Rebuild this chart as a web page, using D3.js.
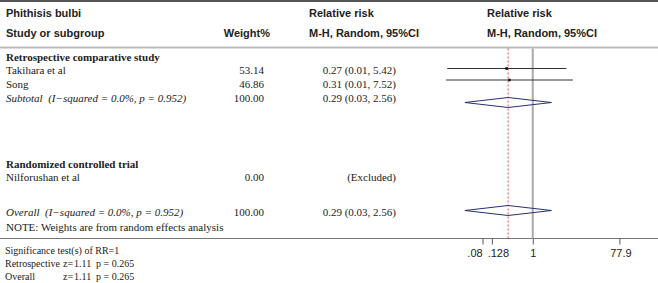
<!DOCTYPE html>
<html>
<head>
<meta charset="utf-8">
<script src="https://cdn.jsdelivr.net/npm/d3@7"></script>
<style>
  body { margin: 0; background: #fff; }
  svg text { fill: #222; }
  .hd { font-family: "Liberation Sans", Arial, sans-serif; font-weight: bold; font-size: 11px; }
  .tx { font-family: "Liberation Serif", "Times New Roman", serif; font-size: 11px; white-space: pre; }
  .sm { font-size: 10px; }
  .tick text { font-family: "Liberation Sans", Arial, sans-serif; font-size: 11px; }
</style>
</head>
<body>
<div id="chart"></div>
<script>
// data
const title = "Phithisis bulbi";
const groupNames = ["Retrospective comparative study", "Randomized controlled trial"];
const studies = ["Takihara et al", "Song"];
const weights = [53.14, 46.86];
const rr = [0.27, 0.31];
const ciLow = [0.0136, 0.0128];   // plotted ends, text rounds to 0.01
const ciHigh = [5.42, 7.52];
const ciLabels = ["0.27 (0.01, 5.42)", "0.31 (0.01, 7.52)"];
const subtotal = { label: "Subtotal  (I\u2212squared = 0.0%, p = 0.952)", weight: "100.00", rr: 0.29, lo: 0.033, hi: 2.56, text: "0.29 (0.03, 2.56)" };
const excluded = { label: "Nilforushan et al", weight: "0.00", text: "(Excluded)" };
const overall = { label: "Overall  (I\u2212squared = 0.0%, p = 0.952)", weight: "100.00", rr: 0.29, lo: 0.033, hi: 2.56, text: "0.29 (0.03, 2.56)" };
const note = "NOTE: Weights are from random effects analysis";
const sigLabels = ["Significance test(s) of RR=1", "Retrospective", "Overall"];
const sigZ = [null, "1.11", "1.11"];
const sigP = [null, "p = 0.265", "p = 0.265"];
const tickValues = [0.08, 0.128, 1, 77.9];
const tickLabels = [".08", ".128", "1", "77.9"];

const W = 658, H = 283;
const svg = d3.select("#chart").append("svg")
    .attr("width", W).attr("height", H);

// log scale for relative risk
const x = d3.scaleLog().domain([0.08, 77.9]).range([482.5, 619.4]);
const size = d3.scaleSqrt().domain([0, 100]).range([0, 3.6]);

// row baselines
const yB = { h1: 17, h2: 37, g1: 61, s0: 74, s1: 87.5, sub: 102, g2: 168, ex: 181, ov: 215.5, note: 230.5 };
const markY = { s0: 68.5, s1: 80, sub: 102.5, ov: 210.5 };
const colW = 264, colCI = 396, colHead = 309, colPlot = 487;

// frame lines
svg.append("line").attr("x1", 0).attr("x2", W).attr("y1", 1).attr("y2", 1)
    .attr("stroke", "#555").attr("stroke-width", 2);
svg.append("line").attr("x1", 0).attr("x2", W).attr("y1", 47.5).attr("y2", 47.5)
    .attr("stroke", "#bbb").attr("stroke-width", 2);
svg.append("line").attr("x1", 0).attr("x2", W).attr("y1", 238.5).attr("y2", 238.5)
    .attr("stroke", "#777").attr("stroke-width", 1.2);

// headers
const hd = (t, xx, yy, anchor) => svg.append("text").attr("class", "hd")
    .attr("x", xx).attr("y", yy).attr("text-anchor", anchor || "start").text(t);
hd(title, 6, yB.h1);
hd("Study or subgroup", 6, yB.h2);
hd("Weight%", 270, yB.h2, "end");
hd("Relative risk", colHead, yB.h1);
hd("M-H, Random, 95%CI", colHead, yB.h2);
hd("Relative risk", colPlot, yB.h1);
hd("M-H, Random, 95%CI", colPlot, yB.h2);

const tx = (t, xx, yy, anchor, style) => {
    const el = svg.append("text").attr("class", "tx")
        .attr("x", xx).attr("y", yy).attr("text-anchor", anchor || "start").text(t);
    if (style === "b") el.attr("font-weight", "bold");
    if (style === "i") el.attr("font-style", "italic");
    return el;
};

// table text
tx(groupNames[0], 6, yB.g1, "start", "b");
studies.forEach((s, i) => {
    const yy = yB["s" + i];
    tx(s, 6, yy);
    tx(weights[i].toFixed(2), colW, yy, "end");
    tx(ciLabels[i], colCI, yy, "end");
});
tx(subtotal.label, 6, yB.sub, "start", "i");
tx(subtotal.weight, colW, yB.sub, "end");
tx(subtotal.text, colCI, yB.sub, "end");
tx(groupNames[1], 6, yB.g2, "start", "b");
tx(excluded.label, 6, yB.ex);
tx(excluded.weight, colW, yB.ex, "end");
tx(excluded.text, colCI, yB.ex, "end");
tx(overall.label, 6, yB.ov, "start", "i");
tx(overall.weight, colW, yB.ov, "end");
tx(overall.text, colCI, yB.ov, "end");
tx(note, 6, yB.note);

// significance tests
const sigY = [254, 267, 280];
sigLabels.forEach((lab, i) => {
    tx(lab, 5, sigY[i]).classed("sm", true);
    if (sigZ[i]) {
        tx("z=", 63, sigY[i]).classed("sm", true);
        tx(sigZ[i], 74, sigY[i]).classed("sm", true);
        tx(sigP[i], 96, sigY[i]).classed("sm", true);
    }
});

// reference lines
svg.append("line").attr("x1", x(1)).attr("x2", x(1)).attr("y1", 48.5).attr("y2", 238.5)
    .attr("stroke", "#aaa").attr("stroke-width", 2);
svg.append("line").attr("x1", x(overall.rr)).attr("x2", x(overall.rr)).attr("y1", 48.5).attr("y2", 238.5)
    .attr("stroke", "#d8485a").attr("stroke-width", 1).attr("stroke-dasharray", "2,2");

// study CIs and boxes
studies.forEach((s, i) => {
    const yy = markY["s" + i];
    svg.append("line").attr("x1", x(ciLow[i])).attr("x2", x(ciHigh[i]))
        .attr("y1", yy).attr("y2", yy).attr("stroke", "#333").attr("stroke-width", 1);
    const sz = size(weights[i]);
    svg.append("rect").attr("x", x(rr[i]) - sz / 2).attr("y", yy - sz / 2)
        .attr("width", sz).attr("height", sz).attr("fill", "#111");
});

// pooled diamonds
[[subtotal, markY.sub], [overall, markY.ov]].forEach(([d, yy]) => {
    const pts = [[x(d.lo), yy], [x(d.rr), yy - 5], [x(d.hi), yy], [x(d.rr), yy + 5]];
    svg.append("polygon").attr("points", pts.map(p => p.join(",")).join(" "))
        .attr("fill", "none").attr("stroke", "#26306e").attr("stroke-width", 1);
});

// axis
const axis = svg.append("g")
    .attr("transform", "translate(0,238.5)")
    .call(d3.axisBottom(x).tickValues(tickValues)
        .tickFormat((d, i) => tickLabels[i]).tickSize(6).tickPadding(5));
axis.select(".domain").remove();
axis.selectAll(".tick line").attr("stroke", "#555");
axis.selectAll(".tick text").attr("fill", "#222")
    .attr("dx", (d, i) => [-8, 6, 0, 1][i]);
</script>
</body>
</html>
